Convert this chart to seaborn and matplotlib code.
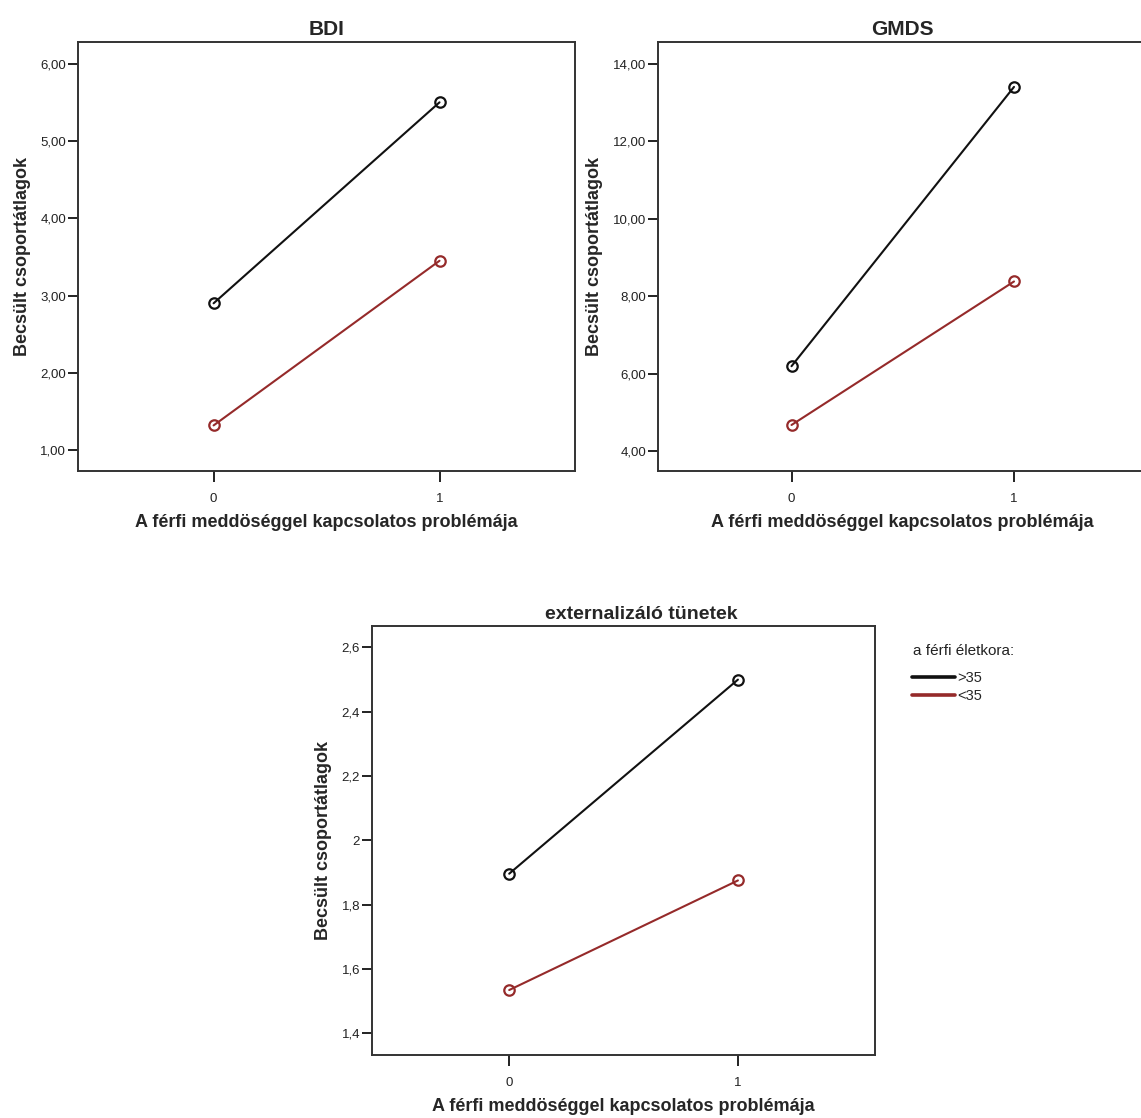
import pandas as pd
import numpy as np
import matplotlib.pyplot as plt
import seaborn as sns
from matplotlib.lines import Line2D

############# DATA ################

problem = [0, 1]
age_groups = ['>35', '<35']

bdi_old = [2.90, 5.50]
bdi_young = [1.32, 3.45]

gmds_old = [6.19, 13.41]
gmds_young = [4.67, 8.38]

ext_old = [1.896, 2.50]
ext_young = [1.534, 1.875]

bdi_ticks = [1, 2, 3, 4, 5, 6]
gmds_ticks = [4, 6, 8, 10, 12, 14]
ext_ticks = [1.4, 1.6, 1.8, 2.0, 2.2, 2.4, 2.6]
ext_ticklabels = ['1,4', '1,6', '1,8', '2', '2,2', '2,4', '2,6']


def make_frame(old, young):
    return pd.DataFrame({
        'problem': problem * 2,
        'mean': old + young,
        'age': [g for g in age_groups for _ in problem],
    })


sns.set_style('white')
plt.rcParams['font.family'] = ['Liberation Sans', 'DejaVu Sans']

colors = {'>35': '#111111', '<35': '#952a2a'}

fig = plt.figure(figsize=(11.41, 11.18), dpi=100)

ax_bdi = fig.add_axes([0.0684, 0.5787, 0.4356, 0.3837])
ax_gmds = fig.add_axes([0.5767, 0.5787, 0.4290, 0.3837])
ax_ext = fig.add_axes([0.3260, 0.0564, 0.4410, 0.3837])

# (axes, data, title, weight, size, title x, yticks, yticklabels, ylim)
panels = [
    (ax_bdi, make_frame(bdi_old, bdi_young), 'BDI', 'bold', 15, 0.5, bdi_ticks,
     [f'{t:.2f}'.replace('.', ',') for t in bdi_ticks], (0.73, 6.28)),
    (ax_gmds, make_frame(gmds_old, gmds_young), 'GMDS', 'bold', 15, 0.5, gmds_ticks,
     [f'{t:.2f}'.replace('.', ',') for t in gmds_ticks], (3.48, 14.57)),
    (ax_ext, make_frame(ext_old, ext_young), 'externalizáló tünetek', 'bold', 14, 0.536,
     ext_ticks, ext_ticklabels, (1.332, 2.667)),
]

for ax, df, title, weight, tsize, tx, yticks, ylabels, ylim in panels:
    sns.lineplot(data=df, x='problem', y='mean', hue='age', palette=colors,
                 marker='o', markersize=7.5, markerfacecolor='none',
                 linewidth=1.5, legend=False, ax=ax)
    for line in ax.get_lines():
        line.set_markeredgecolor(line.get_color())
        line.set_markeredgewidth(1.6)

    ax.set_xlim(-0.6, 1.6)
    ax.set_ylim(*ylim)
    ax.set_xticks(problem)
    ax.set_xticklabels(['0', '1'])
    ax.set_yticks(yticks)
    ax.set_yticklabels(ylabels)
    ax.tick_params(axis='both', direction='out', colors='#222222', labelsize=9.5,
                   width=1.4, length=7, left=True, bottom=True)
    ax.tick_params(axis='y', pad=1.5)
    ax.tick_params(axis='x', length=8, pad=8)

    for side in ax.spines.values():
        side.set_color('#333333')
        side.set_linewidth(1.4)

    ax.set_title(title, fontsize=tsize, fontweight=weight, pad=5, x=tx)
    ax.set_xlabel('A férfi meddöséggel kapcsolatos problémája',
                  fontsize=13, fontweight='bold', labelpad=6)
    ax.set_ylabel('Becsült csoportátlagok', fontsize=13, fontweight='bold',
                  labelpad=7)

# Legend on the right of the bottom panel
legend_family = ['Liberation Sans Narrow', 'Liberation Sans', 'DejaVu Sans']
fig.text(0.800, 0.414, 'a férfi életkora:', fontsize=11, color='#222222',
         family=legend_family)
handles = [Line2D([], [], color=colors[g], linewidth=2.6) for g in age_groups]
fig.legend(handles, age_groups, loc='upper left', bbox_to_anchor=(0.799, 0.400),
           frameon=False, handlelength=3.0, handletextpad=0.1,
           labelspacing=0.3, borderaxespad=0, borderpad=0,
           prop={'family': legend_family, 'size': 10.5})

plt.savefig('out.png', dpi=100)
